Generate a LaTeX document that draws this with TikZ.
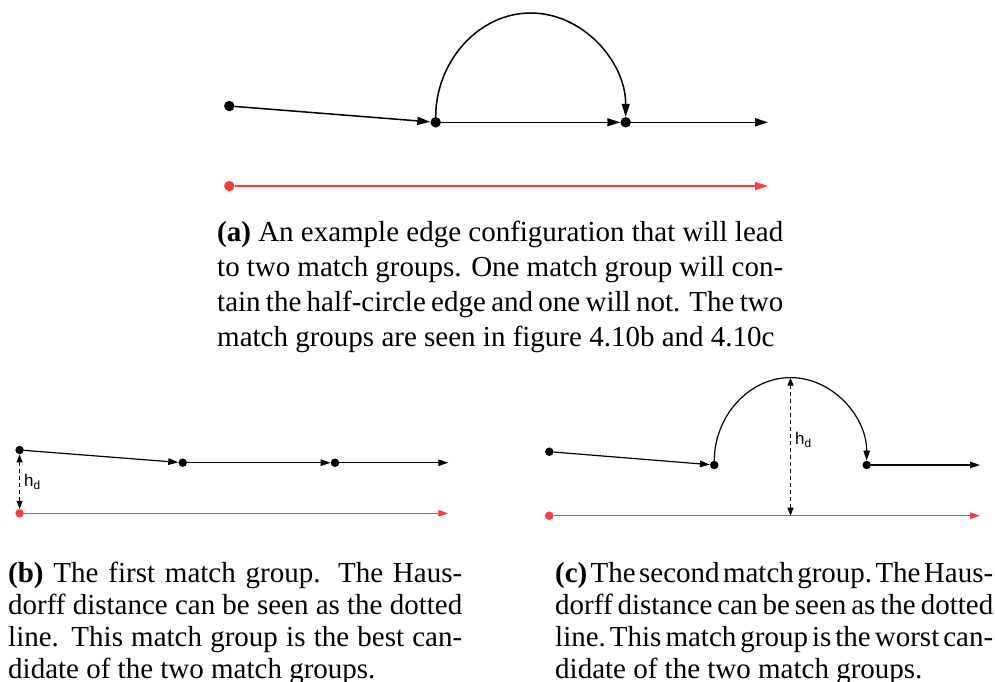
\documentclass[tikz,border=0pt]{standalone}
\usepackage{fontspec}
\setmainfont{Liberation Serif}
\setsansfont{Liberation Sans}
\usepackage{tikz}
\usetikzlibrary{arrows.meta}
\definecolor{ered}{RGB}{250,62,62}
\newcommand\capsp{\spaceskip=0.25em plus 0.2em minus 0.12em\relax}
\newcommand\capspt{\frenchspacing\spaceskip=0.25em plus 0.2em minus 0.16em\relax}
\tikzset{
  dot/.style  ={circle, fill=black, inner sep=0pt, minimum size=10.5pt},
  sdot/.style ={dot, minimum size=8.5pt},
  rdot/.style ={dot, fill=ered},
  srdot/.style={sdot, fill=ered},
  ar/.style   ={-{Triangle[length=13pt,width=8pt]}, line width=1.5pt},
  sar/.style  ={-{Triangle[length=10pt,width=6.5pt]}, line width=1.2pt},
  rar/.style  ={ar, draw=ered},
  srar/.style ={sar, draw=ered},
  hd/.style   ={{Triangle[length=8pt,width=6pt]}-{Triangle[length=8pt,width=6pt]},
                line width=1.2pt, dash pattern=on 4pt off 3pt},
  lbl/.style  ={font=\sffamily\fontsize{17}{20}\selectfont, inner sep=4pt},
  capt/.style ={anchor=north west, inner sep=0pt, align=justify,
                font=\fontsize{29}{35}\selectfont},
  scapt/.style={capt, font=\fontsize{29}{32}\selectfont}
}

\begin{document}
\begin{tikzpicture}[x=1pt, y=1pt]
\useasboundingbox (0,0) rectangle (995,-682);

% (a) the edge configuration
\node[dot] (a1) at (229.3,-106) {};
\node[dot] (a2) at (435.7,-122.3) {};
\node[dot] (a3) at (625.7,-122.3) {};
\coordinate (a4) at (768,-122.3);
\coordinate (apeak) at (530.7,-13);
\node[rdot] (ar) at (229.3,-186) {};
\coordinate (are) at (768,-186);

\draw[ar] (a1) -- (a2);
\draw[ar] (a2) -- (a3);
\draw[ar] (a3) -- (a4);
\draw[ar] (a2) .. controls (435.7,-61.9) and (478.2,-13) .. (apeak)
  .. controls (583.2,-13) and (625.7,-61.9) .. (a3);
\draw[rar] (ar) -- (are);

\node[capt, text width=566pt] (capa) at (217,-221)
  {\capsp\textbf{(a)} An example edge configuration that will lead\linebreak
   to two match groups. One match group will con-\linebreak
   tain the half-circle edge and one will not. The two\linebreak
   match groups are seen in figure 4.10b and 4.10c};

% (b) first match group
\node[sdot] (b1) at (19.6,-450) {};
\node[sdot] (b2) at (182.7,-462.7) {};
\node[sdot] (b3) at (335,-462.7) {};
\coordinate (b4) at (448.3,-462.7);
\node[srdot] (br) at (19.6,-513.3) {};
\coordinate (bre) at (448.3,-513.3);

\draw[sar] (b1) -- (b2);
\draw[sar] (b2) -- (b3);
\draw[sar] (b3) -- (b4);
\draw[srar] (br) -- (bre);
\draw[hd] (b1) -- node[lbl, right] (bh) {h\textsubscript{d}} (br);

\node[scapt, text width=454pt] (capb) at (8,-562)
  {\capsp\textbf{(b)} The first match group. The Haus-\linebreak
   dorff distance can be seen as the dotted\linebreak
   line. This match group is the best can-\linebreak
   didate of the two match groups.};

% (c) second match group
\node[sdot] (c1) at (549.3,-451.7) {};
\node[sdot] (c2) at (714.3,-465) {};
\node[sdot] (c3) at (866.7,-465) {};
\coordinate (c4) at (980,-465);
\coordinate (cpeak) at (790.5,-377.6);
\coordinate (cfoot) at (790.5,-515.7);
\node[srdot] (cr) at (549.3,-515.7) {};
\coordinate (cre) at (980,-515.7);

\draw[sar] (c1) -- (c2);
\draw[sar] (c2) .. controls (714.3,-416.7) and (748.4,-377.6) .. (cpeak)
  .. controls (832.6,-377.6) and (866.7,-416.7) .. (c3);
\draw[sar] (c3) -- (c4);
\draw[srar] (cr) -- (cre);
\draw[hd] (cpeak) -- node[lbl, right, pos=0.45] (ch) {h\textsubscript{d}} (cfoot);

\node[scapt, text width=438pt] (capc) at (555,-562)
  {\capspt\textbf{(c)} The second match group. The Haus-\linebreak
   dorff distance can be seen as the dotted\linebreak
   line. This match group is the worst can-\linebreak
   didate of the two match groups.};
\end{tikzpicture}
\end{document}
